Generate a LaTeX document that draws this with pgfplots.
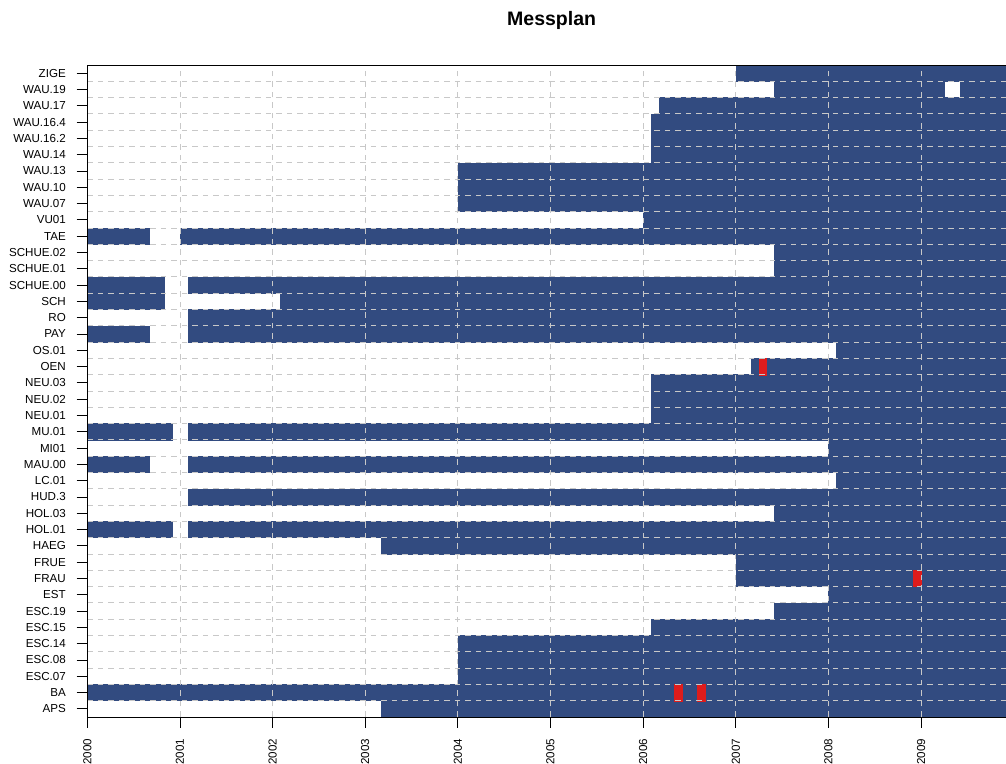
\documentclass[border=0pt]{standalone}
\usepackage{pgfplots}
\pgfplotsset{compat=1.18}
\usepackage{fontspec}
\setmainfont{Liberation Sans}
\definecolor{mblue}{RGB}{50,75,128}
\definecolor{mred}{RGB}{222,28,28}
\definecolor{mgrid}{RGB}{200,200,200}
% segment: start, end, row bottom, row top
\newcommand{\seg}[4]{\addplot[fill=mblue,draw=mblue,line width=0.4pt] coordinates {(#1,#3) (#2,#3) (#2,#4) (#1,#4)};}
\newcommand{\rseg}[4]{\addplot[fill=mred,draw=mred,line width=0.3pt] coordinates {(#1,#3) (#2,#3) (#2,#4) (#1,#4)};}
\begin{document}
\begin{tikzpicture}
\begin{axis}[
  name=ax,
  scale only axis, width=918.7pt, height=652pt,
  xmin=2000, xmax=2009.917, ymin=0, ymax=40,
  axis x line*=bottom, axis y line*=left,
  axis line style={-, black, line width=0.8pt},
  axis on top,
  tick align=outside, major tick length=10.7pt,
  tick style={black, line width=0.8pt},
  xtick={2000,2001,2002,2003,2004,2005,2006,2007,2008,2009},
  xticklabels={2000,2001,2002,2003,2004,2005,2006,2007,2008,2009},
  ytick={0.5,1.5,...,39.5},
  yticklabels={APS,BA,ESC.07,ESC.08,ESC.14,ESC.15,ESC.19,EST,FRAU,FRUE,HAEG,HOL.01,HOL.03,HUD.3,LC.01,MAU.00,MI01,MU.01,NEU.01,NEU.02,NEU.03,OEN,OS.01,PAY,RO,SCH,SCHUE.00,SCHUE.01,SCHUE.02,TAE,VU01,WAU.07,WAU.10,WAU.13,WAU.14,WAU.16.2,WAU.16.4,WAU.17,WAU.19,ZIGE},
  minor ytick={1,2,...,39},
  minor tick length=0pt,
  xmajorgrids=true, ymajorgrids=false, yminorgrids=true,
  major grid style={mgrid, line width=0.8pt, dash pattern=on 5.5pt off 5pt},
  minor grid style={mgrid, line width=0.8pt, dash pattern=on 5.5pt off 5pt},
  yticklabel shift=10.7pt,
  xticklabel shift=11pt,
  yticklabel style={font=\fontsize{11.6}{13}\selectfont, anchor=east, inner sep=0pt},
  xticklabel style={font=\fontsize{11.6}{13}\selectfont, rotate=90, anchor=east, inner sep=0pt},
]
% APS (0)
\seg{2003.167}{2009.917}{0}{1}
% BA (1)
\seg{2000}{2009.917}{1}{2}
% ESC.07, ESC.08, ESC.14
\seg{2004}{2009.917}{2}{3}
\seg{2004}{2009.917}{3}{4}
\seg{2004}{2009.917}{4}{5}
% ESC.15
\seg{2006.083}{2009.917}{5}{6}
% ESC.19
\seg{2007.417}{2009.917}{6}{7}
% EST
\seg{2008}{2009.917}{7}{8}
% FRAU
\seg{2007}{2009.917}{8}{9}
% FRUE
\seg{2007}{2009.917}{9}{10}
% HAEG
\seg{2003.167}{2009.917}{10}{11}
% HOL.01
\seg{2000}{2000.917}{11}{12}
\seg{2001.083}{2009.917}{11}{12}
% HOL.03
\seg{2007.417}{2009.917}{12}{13}
% HUD.3
\seg{2001.083}{2009.917}{13}{14}
% LC.01
\seg{2008.083}{2009.917}{14}{15}
% MAU.00
\seg{2000}{2000.667}{15}{16}
\seg{2001.083}{2009.917}{15}{16}
% MI01
\seg{2008}{2009.917}{16}{17}
% MU.01
\seg{2000}{2000.917}{17}{18}
\seg{2001.083}{2009.917}{17}{18}
% NEU.01, NEU.02, NEU.03
\seg{2006.083}{2009.917}{18}{19}
\seg{2006.083}{2009.917}{19}{20}
\seg{2006.083}{2009.917}{20}{21}
% OEN
\seg{2007.167}{2009.917}{21}{22}
% OS.01
\seg{2008.083}{2009.917}{22}{23}
% PAY
\seg{2000}{2000.667}{23}{24}
\seg{2001.083}{2009.917}{23}{24}
% RO
\seg{2001.083}{2009.917}{24}{25}
% SCH
\seg{2000}{2000.833}{25}{26}
\seg{2002.083}{2009.917}{25}{26}
% SCHUE.00
\seg{2000}{2000.833}{26}{27}
\seg{2001.083}{2009.917}{26}{27}
% SCHUE.01, SCHUE.02
\seg{2007.417}{2009.917}{27}{28}
\seg{2007.417}{2009.917}{28}{29}
% TAE
\seg{2000}{2000.667}{29}{30}
\seg{2001}{2009.917}{29}{30}
% VU01
\seg{2006}{2009.917}{30}{31}
% WAU.07, WAU.10, WAU.13
\seg{2004}{2009.917}{31}{32}
\seg{2004}{2009.917}{32}{33}
\seg{2004}{2009.917}{33}{34}
% WAU.14, WAU.16.2, WAU.16.4
\seg{2006.083}{2009.917}{34}{35}
\seg{2006.083}{2009.917}{35}{36}
\seg{2006.083}{2009.917}{36}{37}
% WAU.17
\seg{2006.167}{2009.917}{37}{38}
% WAU.19
\seg{2007.417}{2009.25}{38}{39}
\seg{2009.417}{2009.917}{38}{39}
% ZIGE
\seg{2007}{2009.917}{39}{40}
% red cells
\rseg{2006.333}{2006.417}{1}{2}
\rseg{2006.583}{2006.667}{1}{2}
\rseg{2008.917}{2009}{8}{9}
\rseg{2007.25}{2007.333}{21}{22}
\end{axis}
\draw[black, line width=0.8pt] (ax.north west) -- (ax.north east);
\node[anchor=base, font=\bfseries\fontsize{19.5}{22}\selectfont] at ([xshift=5pt,yshift=39.3pt]ax.north) {Messplan};
\pgfresetboundingbox
\path ([xshift=-87.3pt,yshift=-47pt]ax.south west) rectangle ([yshift=65pt]ax.north east);
\end{tikzpicture}
\end{document}
